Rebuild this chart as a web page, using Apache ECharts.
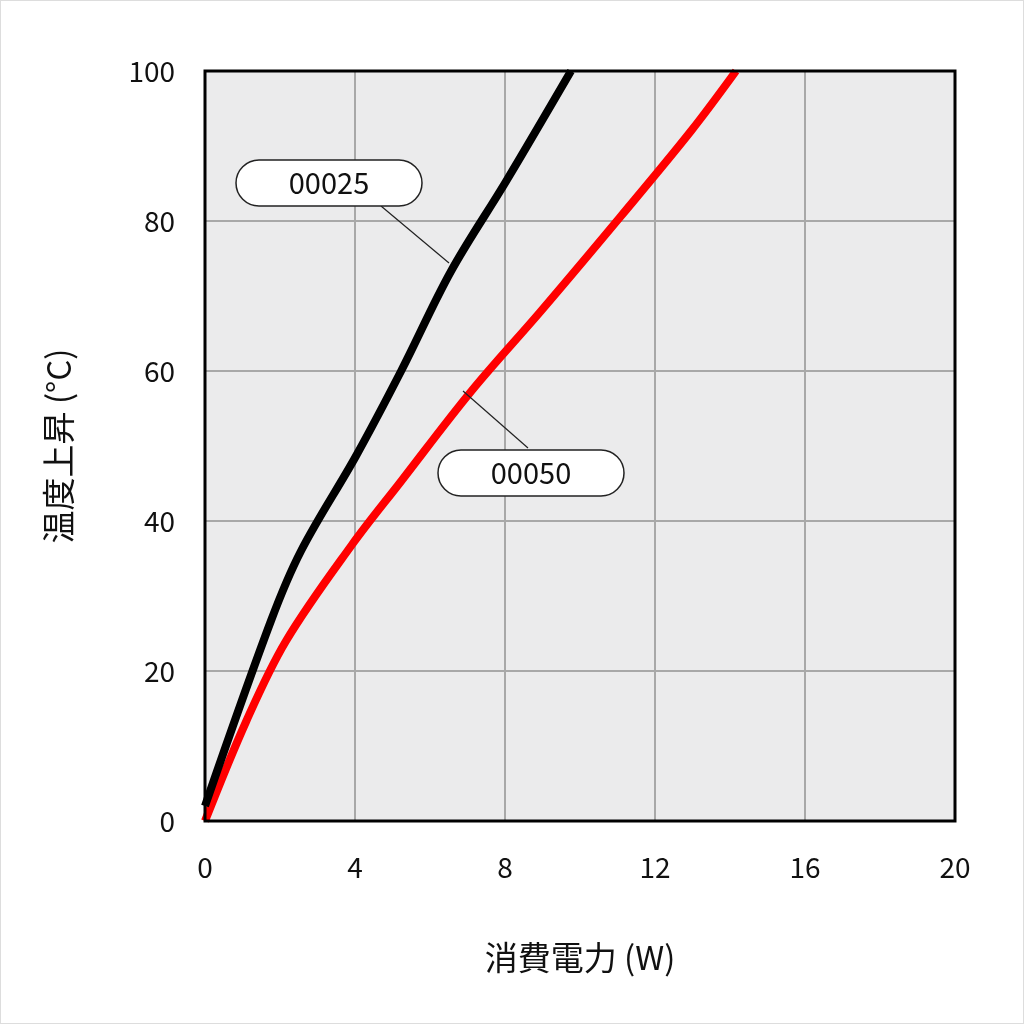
<!DOCTYPE html>
<html><head><meta charset="utf-8">
<script src="https://cdn.jsdelivr.net/npm/echarts@6/dist/echarts.min.js"></script>
<style>html,body{margin:0;padding:0;background:#fff}#c{width:1024px;height:1024px;box-sizing:border-box;border:1px solid #ddd}</style>
</head><body><div id="c"></div>
<script>
const xTicks=[0,4,8,12,16,20];
const yTicks=[0,20,40,60,80,100];
const s00025=[[0,2],[1.76,26.7],[2.56,36],[4.03,48.7],[5.23,60],[6.56,73.3],[8.03,85.3],[9.76,100]];
const s00050=[[0,0],[1.1,13.3],[2.16,24],[3.9,36.7],[5.23,45.3],[7.1,57.3],[8.96,68],[11.1,80.7],[12.96,92],[14.16,100]];
const names=['00025','00050'];
const f='"Noto Sans CJK JP","Noto Sans",sans-serif';
const ch=echarts.init(document.getElementById('c'));
function label(cx,cy,w,txt,x1,y1,x2,y2){return [
 {type:'line',shape:{x1,y1,x2,y2},style:{stroke:'#222',lineWidth:1.2},z:100},
 {type:'rect',shape:{x:cx-w/2,y:cy-23,width:w,height:46,r:23},style:{fill:'#fff',stroke:'#222',lineWidth:1.5},z:101},
 {type:'text',x:cx,y:cy,style:{text:txt,font:'29px '+f,fill:'#111',align:'center',verticalAlign:'middle'},z:102}];}
ch.setOption({
 animation:false,
 grid:{left:204,top:70,width:750,height:750,show:true,backgroundColor:'#ebebec',borderWidth:0},
 xAxis:{type:'value',min:0,max:20,interval:4,name:'消費電力 (W)',nameLocation:'middle',nameGap:120,
  nameTextStyle:{fontSize:33,color:'#111',fontFamily:f},
  axisLabel:{fontSize:28,color:'#111',margin:32,fontFamily:f},axisLine:{show:false},axisTick:{show:false},
  splitLine:{lineStyle:{color:'#a8a8a8',width:2}}},
 yAxis:{type:'value',min:0,max:100,interval:20,name:'温度上昇 (°C)',nameLocation:'middle',nameGap:130,
  nameTextStyle:{fontSize:33,color:'#111',fontFamily:f},
  axisLabel:{fontSize:28,color:'#111',margin:30,fontFamily:f},axisLine:{show:false},axisTick:{show:false},
  splitLine:{lineStyle:{color:'#a8a8a8',width:2}}},
 series:[
  {name:names[0],type:'line',data:s00025,smooth:0.35,showSymbol:false,lineStyle:{color:'#000',width:8},z:3},
  {name:names[1],type:'line',data:s00050,smooth:0.35,showSymbol:false,lineStyle:{color:'#ff0000',width:8},z:2}],
 graphic:[{type:'rect',shape:{x:204,y:70,width:750,height:750},style:{fill:'none',stroke:'#000',lineWidth:3},z:99},
  ...label(328,182,186,names[0],380,205,448,262),...label(530,472,186,names[1],527,447,462,390)]
});
</script></body></html>
